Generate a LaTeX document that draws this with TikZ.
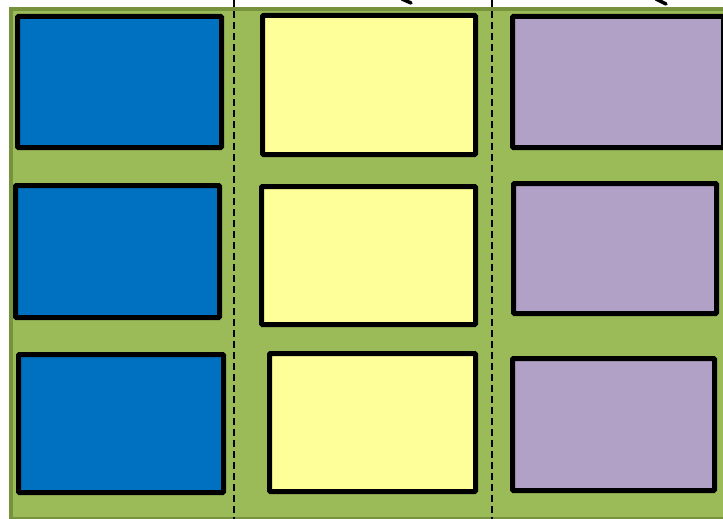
\documentclass[tikz,border=0pt]{standalone}
\definecolor{bgfill}{HTML}{9BBB59}
\definecolor{bgedge}{HTML}{76923C}
\definecolor{cblue}{HTML}{0070C0}
\definecolor{cyellow}{HTML}{FFFF99}
\definecolor{cpurple}{HTML}{B2A1C7}
\begin{document}
\begin{tikzpicture}[x=1pt,y=-1pt,
  card/.style={draw=black,line width=5pt,rounded corners=1pt,inner sep=0pt},
  bluecard/.style={card,fill=cblue},
  yellowcard/.style={card,fill=cyellow},
  purplecard/.style={card,fill=cpurple},
  divider/.style={line width=1.5pt,dash pattern=on 7pt off 4pt},
  stub/.style={line width=3.5pt,line cap=round}]
\useasboundingbox (0,0) rectangle (723,519);
\begin{scope}
\clip (0,0) rectangle (723,519);
\node[draw=bgedge,fill=bgfill,line width=4pt,minimum width=731pt,minimum height=510pt,inner sep=0pt,anchor=north west] (bg) at (9,7) {};
% dividers
\coordinate (d1t) at (234,0); \coordinate (d1b) at (234,519);
\coordinate (d2t) at (492,0); \coordinate (d2b) at (492,519);
\draw[divider] (d1t) -- (d1b);
\draw[divider] (d2t) -- (d2b);
% fragments at the top
\coordinate (s1a) at (402,-1); \coordinate (s1b) at (411,3);
\coordinate (s2a) at (656,-1); \coordinate (s2b) at (666,4);
\draw[stub] (s1a) -- (s1b);
\draw[stub] (s2a) -- (s2b);
% row 1
\node[bluecard,minimum width=204pt,minimum height=131pt] (b1) at (119.5,82) {};
\node[yellowcard,minimum width=213pt,minimum height=139pt] (y1) at (369,85) {};
\node[purplecard,minimum width=211pt,minimum height=131pt] (p1) at (618,82) {};
% row 2
\node[bluecard,minimum width=204pt,minimum height=132pt] (b2) at (117.5,251.5) {};
\node[yellowcard,minimum width=214pt,minimum height=138pt] (y2) at (368.5,255.5) {};
\node[purplecard,minimum width=203pt,minimum height=130pt] (p2) at (615,248.5) {};
% row 3
\node[bluecard,minimum width=205pt,minimum height=138pt] (b3) at (121,423.5) {};
\node[yellowcard,minimum width=206pt,minimum height=138pt] (y3) at (372.5,422.5) {};
\node[purplecard,minimum width=202pt,minimum height=132pt] (p3) at (613.5,424.5) {};
\end{scope}
\end{tikzpicture}
\end{document}
